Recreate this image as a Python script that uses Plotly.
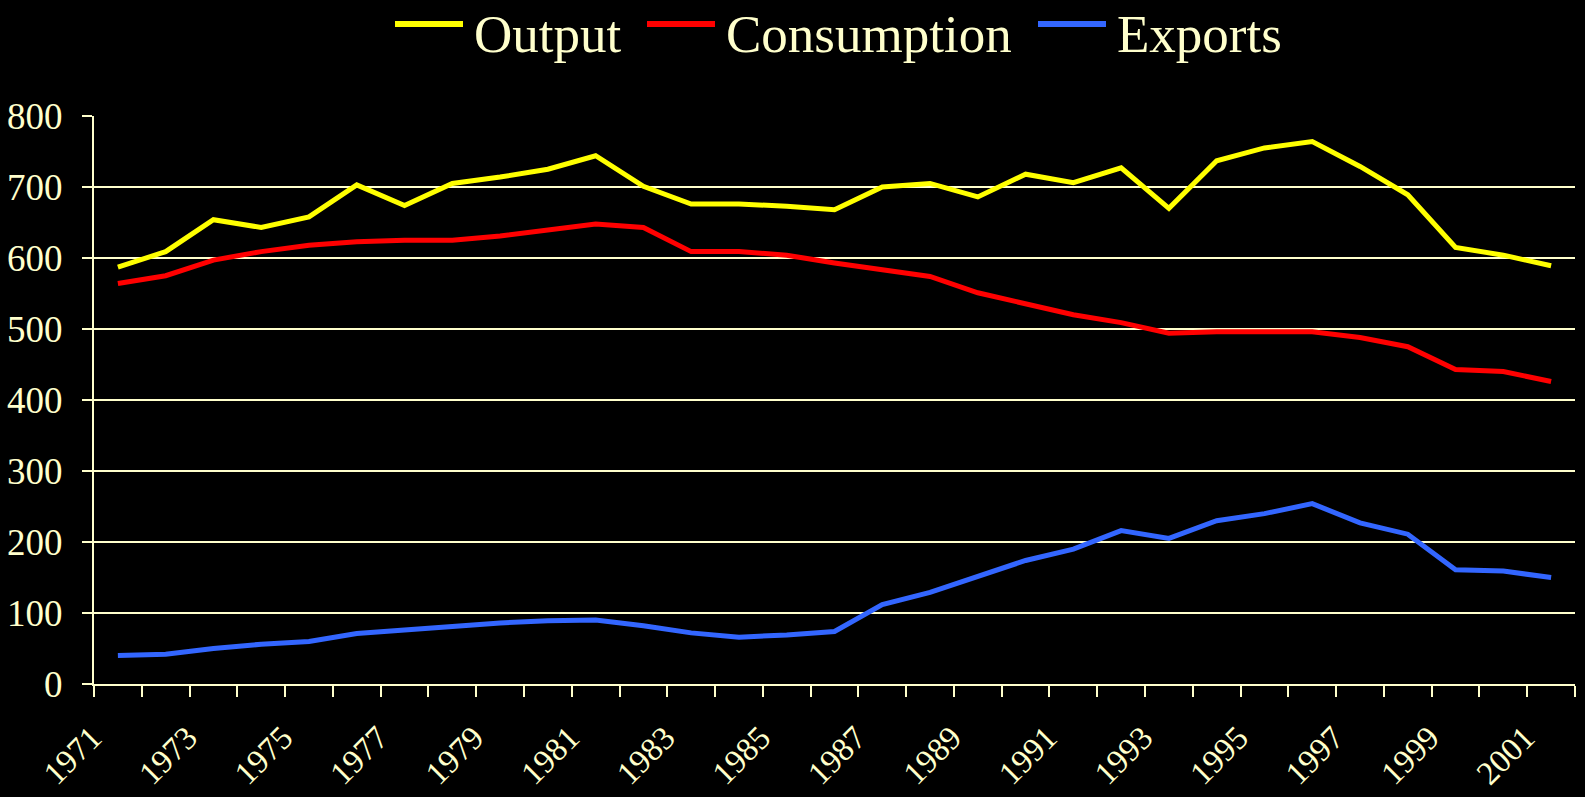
import plotly.graph_objects as go

CREAM = "#FFFFCC"
FONT = "Liberation Serif"

years = list(range(1971, 2002))
output = [587, 609, 654, 643, 658, 703, 674, 705, 714, 725, 744, 701, 676, 676, 673,
          668, 700, 705, 686, 718, 706, 727, 670, 737, 755, 764, 729, 689, 615, 604, 589]
consumption = [564, 575, 597, 609, 618, 623, 625, 625, 631, 640, 648, 643, 609, 609, 604,
               593, 584, 574, 551, 535, 520, 509, 494, 496, 496, 496, 488, 475, 443, 440, 426]
exports = [40, 42, 50, 56, 60, 71, 76, 81, 86, 89, 90, 82, 72, 66, 69,
           74, 112, 129, 152, 174, 190, 216, 205, 230, 240, 254, 227, 211, 161, 159, 150]

series = [
    ("Output", output, "#FFFF00"),
    ("Consumption", consumption, "#FF0000"),
    ("Exports", exports, "#3366FF"),
]

W, H = 1585, 797
L, R, T, B = 94, 10, 116, 113


def xp(px):
    return (px - L) / (W - L - R)


def yp(py):
    return (H - B - py) / (H - T - B)


fig = go.Figure()
for name, vals, color in series:
    fig.add_trace(go.Scatter(
        x=years, y=vals, mode="lines", name=name,
        line=dict(color=color, width=5),
        hovertemplate=f"<b>{name}</b><br>%{{x}}: %{{y}}<extra></extra>",
    ))

# hand-drawn legend (long line swatches like the original)
legend_x = [395, 647, 1038]
for (name, _, color), x0 in zip(series, legend_x):
    fig.add_shape(type="line", xref="paper", yref="paper",
                  x0=xp(x0), x1=xp(x0 + 68), y0=yp(24), y1=yp(24),
                  line=dict(color=color, width=6))
    fig.add_annotation(xref="paper", yref="paper", x=xp(x0 + 77), y=yp(34),
                       text=name, showarrow=False, xanchor="left", yanchor="middle",
                       font=dict(family=FONT, size=53, color=CREAM))

boundaries = [y - 0.5 for y in years] + [years[-1] + 0.5]

fig.update_layout(
    width=W, height=H,
    paper_bgcolor="black", plot_bgcolor="black",
    margin=dict(l=L, r=R, t=T, b=B, autoexpand=False),
    font=dict(family=FONT, color=CREAM, size=36),
    showlegend=False,
)
fig.update_xaxes(
    range=[years[0] - 0.5, years[-1] + 0.5], automargin=False,
    tickvals=years[::2], ticktext=[str(y) for y in years[::2]],
    tickangle=-45, ticks="", showgrid=False, zeroline=False,
    showline=True, linecolor=CREAM, linewidth=2,
    tickfont=dict(family=FONT, size=33, color=CREAM),
    ticklabelstandoff=19, ticklabelshift=-26,
    minor=dict(tickvals=boundaries, ticks="outside", ticklen=11,
               tickcolor=CREAM, tickwidth=2, showgrid=False),
)
fig.update_yaxes(
    range=[0, 800], dtick=100, ticks="outside", ticklen=10, automargin=False,
    tickcolor=CREAM, tickwidth=2,
    showgrid=True, gridcolor=CREAM, gridwidth=2, zeroline=False,
    showline=True, linecolor=CREAM, linewidth=2,
    tickfont=dict(family=FONT, size=37, color=CREAM),
    ticklabelstandoff=12,
)

fig.write_html(
    "out.html",
    config={"displayModeBar": False},
    post_script="document.body.style.margin='0';document.body.style.background='black';",
)
